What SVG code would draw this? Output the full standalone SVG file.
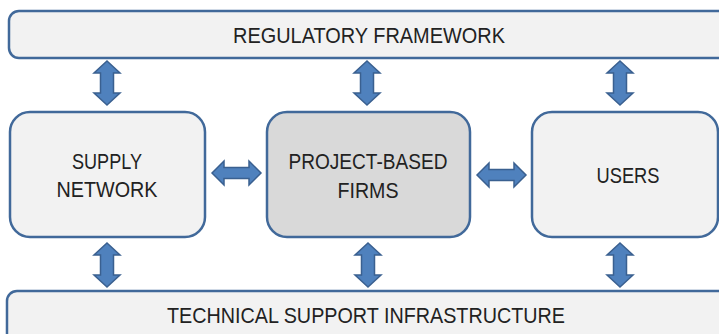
<svg xmlns="http://www.w3.org/2000/svg" xmlns:xlink="http://www.w3.org/1999/xlink" width="719" height="334" viewBox="0 0 719 334">
<style>
.box{fill:#f2f2f2;stroke:#41699a;stroke-width:2.5}
.dark{fill:#d9d9d9}
.arr{fill:#4f81bd;stroke:#3a6090;stroke-width:1.5;stroke-linejoin:miter}
text{font-family:"Liberation Sans",Arial,sans-serif;font-size:22px;fill:#222222;text-anchor:middle}
</style>
<defs>
<path id="va" d="M0,-22 L13,-10 L6.5,-10 L6.5,10 L13,10 L0,22 L-13,10 L-6.5,10 L-6.5,-10 L-13,-10 Z"/>
<path id="ha" d="M-24.5,0 L-12.5,-12 L-12.5,-5.5 L12.5,-5.5 L12.5,-12 L24.5,0 L12.5,12 L12.5,5.5 L-12.5,5.5 L-12.5,12 Z"/>
</defs>
<g id="regulatory-framework">
<rect class="box" x="9" y="11" width="730" height="47" rx="10"/>
<text x="369" y="43" textLength="272" lengthAdjust="spacingAndGlyphs">REGULATORY FRAMEWORK</text>
</g>
<g id="supply-network">
<rect class="box" x="10" y="112" width="195" height="125" rx="20"/>
<text x="107" y="169" textLength="70" lengthAdjust="spacingAndGlyphs">SUPPLY</text>
<text x="107" y="197" textLength="101" lengthAdjust="spacingAndGlyphs">NETWORK</text>
</g>
<g id="project-based-firms">
<rect class="box dark" x="267" y="112" width="203" height="125" rx="20"/>
<text x="368" y="169" textLength="159" lengthAdjust="spacingAndGlyphs">PROJECT-BASED</text>
<text x="368" y="198" textLength="61" lengthAdjust="spacingAndGlyphs">FIRMS</text>
</g>
<g id="users">
<rect class="box" x="532" y="112" width="186" height="125" rx="20"/>
<text x="628" y="183" textLength="63" lengthAdjust="spacingAndGlyphs">USERS</text>
</g>
<g id="technical-support-infrastructure">
<rect class="box" x="7" y="291" width="730" height="60" rx="10"/>
<text x="366" y="323" textLength="398" lengthAdjust="spacingAndGlyphs">TECHNICAL SUPPORT INFRASTRUCTURE</text>
</g>
<g id="connectors">
<use class="arr" xlink:href="#va" href="#va" x="107" y="83"/>
<use class="arr" xlink:href="#va" href="#va" x="367" y="83"/>
<use class="arr" xlink:href="#va" href="#va" x="620" y="83"/>
<use class="arr" xlink:href="#va" href="#va" x="107" y="265"/>
<use class="arr" xlink:href="#va" href="#va" x="368" y="265"/>
<use class="arr" xlink:href="#va" href="#va" x="620" y="265"/>
<use class="arr" xlink:href="#ha" href="#ha" x="236.5" y="173"/>
<use class="arr" xlink:href="#ha" href="#ha" x="501.5" y="175"/>
</g>
</svg>
